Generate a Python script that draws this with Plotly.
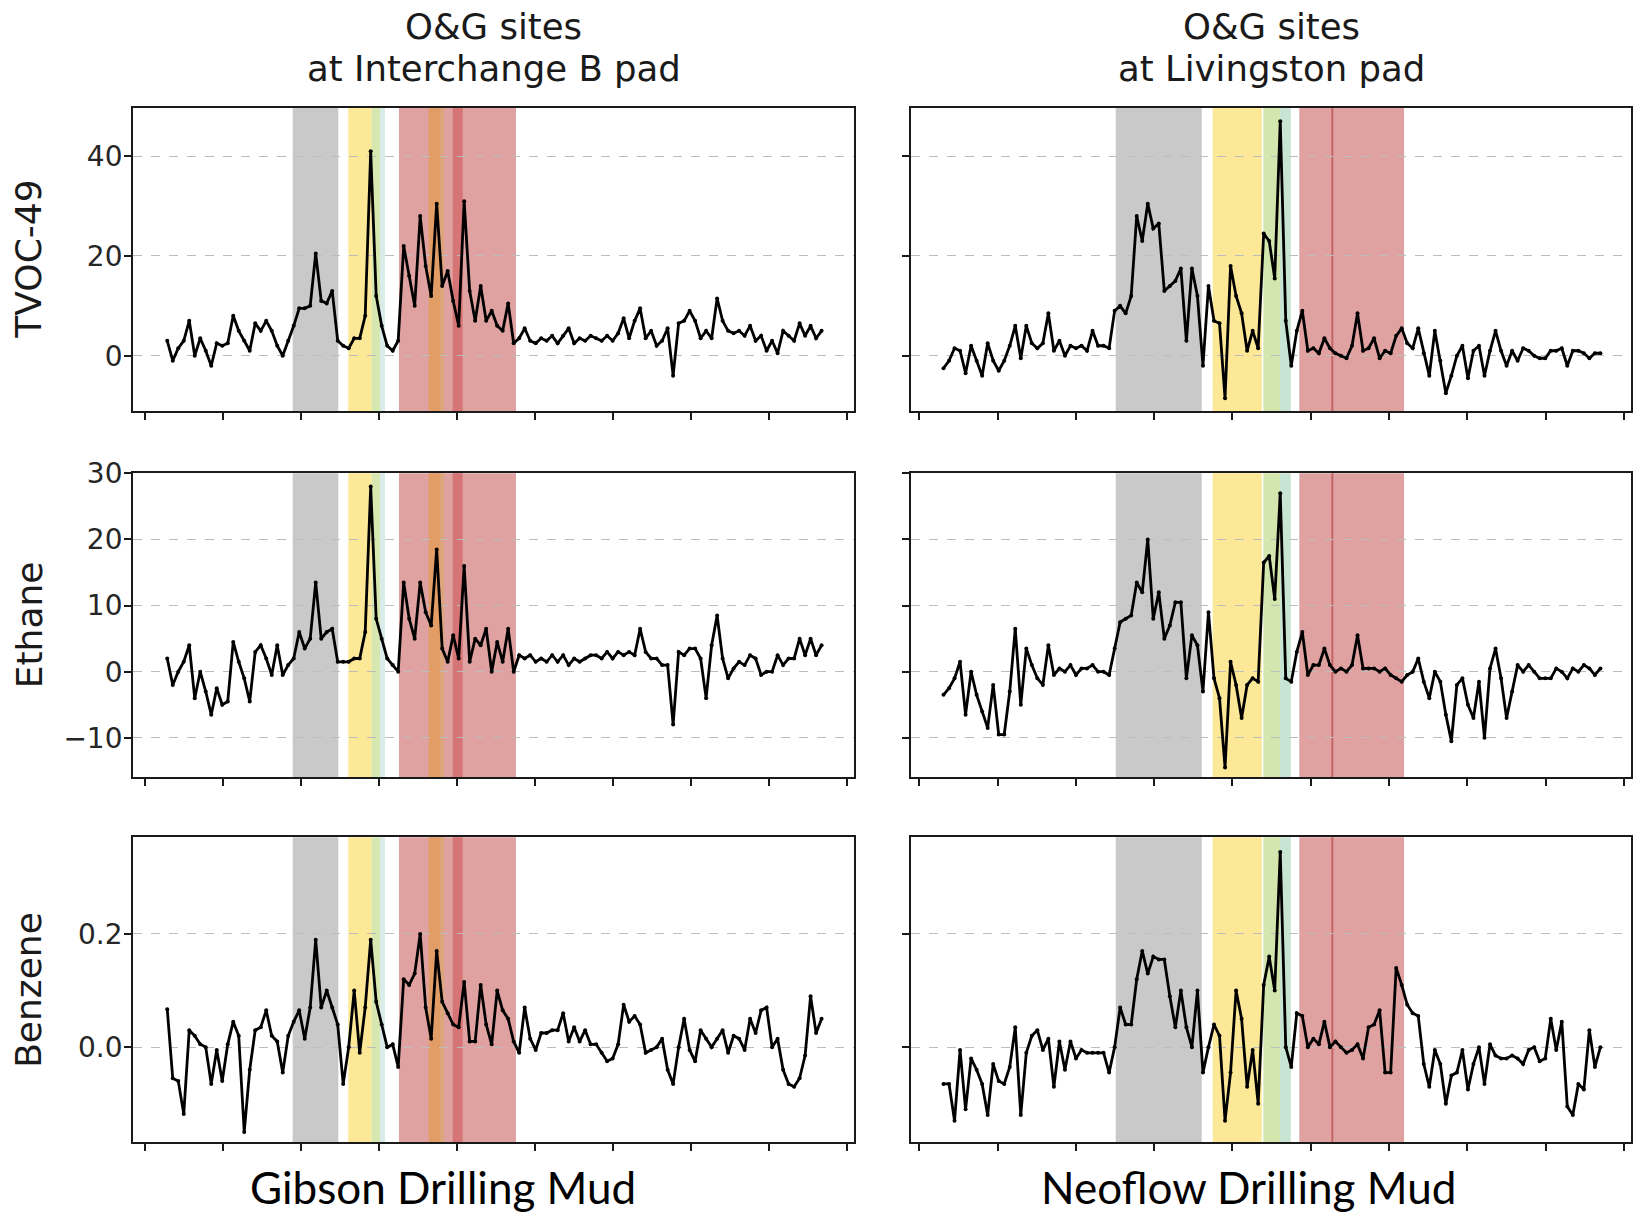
import plotly.graph_objects as go

# ---------------- data ----------------
N_SAMPLES = 120
DT_DAYS = 0.0705
T0_GIBSON = 0.28
T0_NEOFLOW = 0.31

gibson_tvoc = [3, -1, 1.5, 3, 7, 0, 3.5, 1, -2, 2.5,
               2, 2.5, 8, 5, 3, 1, 6.5, 5, 7, 5,
               2, 0, 3, 6, 9.5, 9.5, 10, 20.5, 11, 10.5,
               13, 3, 2, 1.5, 3.5, 3.5, 8, 41, 12, 6,
               2, 1, 3, 22, 16, 10, 28, 18, 12, 30.5,
               14, 17, 11, 6, 31, 13, 7, 14, 7, 9,
               6, 5, 10.5, 2.5, 3.5, 5.5, 3, 2.5, 3.5, 3,
               4, 2.5, 4, 5.5, 2.5, 3.5, 3, 4, 3.5, 3,
               4, 3, 4.5, 7.5, 3.5, 7, 9.5, 3.5, 5, 2,
               3, 5.5, -4, 6.5, 7, 9, 7, 3.5, 5, 3.5,
               11.5, 7, 5, 4.5, 5, 4, 6, 3, 4, 1,
               3, 0.5, 5, 4, 3, 6.5, 4, 6, 3.5, 5]

gibson_ethane = [2, -2, 0, 1.5, 4, -4, 0, -3, -6.5, -2.5,
                 -5, -4.5, 4.5, 1.5, -1, -4.5, 3, 4, 2, -0.5,
                 4, -0.5, 1, 2, 6, 3.5, 5, 13.5, 5, 6,
                 6.5, 1.5, 1.5, 1.5, 2, 2, 6, 28, 8, 5,
                 2, 1, 0, 13.5, 8, 5, 13.5, 9, 7, 18.5,
                 3.5, 1.5, 5.5, 2, 16, 1.5, 5, 4, 6.5, 0,
                 4.5, 1.5, 6.5, 0, 2.5, 2, 2.5, 1.5, 2, 1.5,
                 2.5, 1.5, 2.5, 1, 2, 1.5, 2, 2.5, 2.5, 2,
                 3, 2, 3, 2.5, 3, 2.5, 6.5, 3, 2, 2,
                 1, 1, -8, 3, 2.5, 3.5, 3.5, 2, -4, 4,
                 8.5, 2, -1, 0.5, 1.5, 1, 2.5, 2, -0.5, 0,
                 0, 2.5, 1, 2, 2, 5, 2.5, 5, 2.5, 4]

gibson_benzene = [0.067, -0.055, -0.06, -0.118, 0.03, 0.02, 0.005, 0.0, -0.065, -0.005,
                  -0.06, 0.005, 0.045, 0.02, -0.15, -0.04, 0.03, 0.035, 0.065, 0.02,
                  0.01, -0.045, 0.02, 0.045, 0.065, 0.015, 0.07, 0.19, 0.07, 0.1,
                  0.07, 0.04, -0.065, 0.0, 0.1, -0.01, 0.07, 0.19, 0.08, 0.04,
                  0.0, 0.005, -0.035, 0.12, 0.11, 0.13, 0.2, 0.07, 0.015, 0.17,
                  0.08, 0.06, 0.04, 0.035, 0.115, 0.01, 0.01, 0.11, 0.04, 0.005,
                  0.1, 0.065, 0.05, 0.01, -0.01, 0.07, 0.015, -0.005, 0.025, 0.025,
                  0.03, 0.03, 0.06, 0.01, 0.035, 0.01, 0.03, 0.005, 0.005, -0.01,
                  -0.025, -0.02, 0.005, 0.075, 0.045, 0.055, 0.04, -0.01, -0.005, 0.0,
                  0.015, -0.04, -0.065, 0.0, 0.05, -0.005, -0.025, 0.03, 0.015, 0.0,
                  0.015, 0.03, -0.01, 0.02, 0.015, -0.005, 0.05, 0.025, 0.065, 0.07,
                  0.0, 0.015, -0.04, -0.065, -0.07, -0.055, -0.015, 0.09, 0.025, 0.05]

neoflow_tvoc = [-2.5, -1, 1.5, 1, -3.5, 2, -1, -4, 2.5, -1,
                -3, -1, 2, 6, -0.5, 6, 2.5, 1.5, 2.5, 8.5,
                1, 3, 0, 2, 1.5, 2, 1, 5, 2, 2,
                1.5, 9, 10, 8.5, 12, 28, 23, 30.5, 25.5, 26.5,
                13, 14, 15, 17.5, 3, 17.5, 12, -2, 14, 7,
                6.5, -8.5, 18, 12, 8.5, 1, 5, 1.5, 24.5, 23,
                15.5, 47, 7, -2, 5, 9, 1, 1.5, 0.5, 3.5,
                1.5, 0.5, 0, -0.5, 2, 8.5, 1, 1.5, 3.5, -0.5,
                1, 0.5, 4, 5.5, 2.5, 1.5, 5.5, 0.5, -4, 5,
                -1, -7.5, -4, 0, 2, -4.5, 1, 2, -4, 1,
                5, 1, -2, 1, -1, 1.5, 1, 0, -0.5, -0.5,
                1, 1, 1.5, -2, 1, 1, 0.5, -0.5, 0.5, 0.5]

neoflow_ethane = [-3.5, -2.5, -1, 1.5, -6.5, 0, -3.5, -6, -8.5, -2,
                  -9.5, -9.5, -3, 6.5, -5, 3.5, 1, -1, -2, 4,
                  -0.5, 0.5, 0, 1, -0.5, 0.5, 0.5, 1, 0, 0,
                  -0.5, 3.5, 7.5, 8, 8.5, 13.5, 12, 20, 8, 12,
                  5, 7, 10.5, 10.5, -1, 5.5, 4, -3, 9, -1,
                  -4, -14.5, 1.5, -2, -7, -2, -1, -1.5, 16.5, 17.5,
                  11, 27, -1, -1.5, 3, 6, -0.5, 1, 1, 3.5,
                  1, 0, 0.5, 0, 1, 5.5, 0.5, 0.5, 0.5, 0,
                  0.5, -0.5, -1, -1.5, -0.5, 0, 2, -1.5, -4, 0,
                  -1.5, -6.5, -10.5, -2, -1, -5, -7, -1.5, -10, 0.5,
                  3.5, -1, -7, -3, 1, 0, 1, 0, -1, -1,
                  -1, 0.5, 0, -1, 0.5, 0, 1, 0.5, -0.5, 0.5]

neoflow_benzene = [-0.065, -0.065, -0.13, -0.005, -0.11, -0.02, -0.04, -0.065, -0.12, -0.03,
                   -0.06, -0.065, -0.035, 0.035, -0.12, -0.01, 0.02, 0.03, -0.005, 0.015,
                   -0.07, 0.01, -0.04, 0.01, -0.02, -0.005, -0.01, -0.01, -0.01, -0.01,
                   -0.045, 0.0, 0.07, 0.04, 0.04, 0.12, 0.17, 0.13, 0.16, 0.155,
                   0.155, 0.09, 0.035, 0.1, 0.035, 0.0, 0.1, -0.045, 0.0, 0.04,
                   0.02, -0.13, -0.045, 0.1, 0.05, -0.07, -0.005, -0.1, 0.11, 0.16,
                   0.1, 0.345, 0.0, -0.035, 0.06, 0.055, 0.0, 0.015, 0.005, 0.045,
                   0.0, 0.01, 0.0, -0.01, -0.005, 0.005, -0.02, 0.035, 0.04, 0.065,
                   -0.045, -0.045, 0.14, 0.11, 0.075, 0.06, 0.055, -0.03, -0.07, -0.005,
                   -0.03, -0.1, -0.05, -0.045, -0.005, -0.075, -0.03, 0.0, -0.065, 0.005,
                   -0.015, -0.02, -0.02, -0.015, -0.02, -0.03, -0.005, 0.0, -0.025, -0.02,
                   0.05, -0.005, 0.045, -0.105, -0.12, -0.065, -0.075, 0.03, -0.035, 0.0]

# activity periods (days)
gibson_periods = [(1.888, 2.473, "#c9c9c9"),
                  (2.601, 2.901, "#fce896"),
                  (2.901, 3.008, "#d6e8b0"),
                  (3.008, 3.072, "#d9ecea"),
                  (3.251, 4.751, "#e0a1a1"),
                  (3.632, 3.777, "#e29d66"),
                  (3.777, 3.832, "#dca57c"),
                  (3.940, 4.068, "#d67575")]
neoflow_periods = [(2.510, 3.608, "#c9c9c9"),
                   (3.748, 4.374, "#fce896"),
                   (4.395, 4.608, "#d3e6ad"),
                   (4.608, 4.745, "#c8e4d2"),
                   (4.854, 6.192, "#e0a1a1")]
neoflow_marker_day = 5.276

day_ticks = list(range(10))
row_names = ["TVOC-49", "Ethane", "Benzene"]
col_titles = [("O&G sites", "at Interchange B pad"), ("O&G sites", "at Livingston pad")]
col_labels = ["Gibson Drilling Mud", "Neoflow Drilling Mud"]

# ---------------- figure ----------------
W, H = 1633, 1213
# empirical correction of the vertical placement seen in the rendered page
Y_OFF, Y_SCALE = 12.7, 0.9893


def py(p):
    """paper fraction for a wanted vertical pixel position"""
    return 1 - ((p - Y_OFF) / Y_SCALE) / H


t_gib = [T0_GIBSON + i * DT_DAYS for i in range(N_SAMPLES)]
t_neo = [T0_NEOFLOW + i * DT_DAYS for i in range(N_SAMPLES)]

series = [[gibson_tvoc, neoflow_tvoc],
          [gibson_ethane, neoflow_ethane],
          [gibson_benzene, neoflow_benzene]]
times = [t_gib, t_neo]
periods = [gibson_periods, neoflow_periods]

col_px = [(133, 854), (911, 1631)]
row_px = [(105, 409), (471, 776), (836, 1142)]
x_ranges = [[-0.159, 9.085], [-0.105, 9.09]]
y_ranges = [[-11.14, 49.66], [-15.98, 30.03], [-0.1685, 0.371]]
y_ticks = [[0, 20, 40], [-10, 0, 10, 20, 30], [0.0, 0.2]]
y_formats = ["d", "d", ".1f"]

fig = go.Figure()
layout = dict(width=W, height=H, margin=dict(l=0, r=0, t=0, b=0),
              paper_bgcolor="white", plot_bgcolor="white", showlegend=False,
              font=dict(family="DejaVu Sans", color="#262626"))
shapes = []
annotations = []

axis_line = dict(showline=True, linecolor="#1a1a1a", linewidth=1.8, mirror=True,
                 ticks="outside", ticklen=7, tickwidth=1.5, tickcolor="#1a1a1a",
                 zeroline=False)

for r in range(3):
    for c in range(2):
        idx = r * 2 + c + 1
        sfx = "" if idx == 1 else str(idx)
        xa, ya = "x" + sfx, "y" + sfx
        fig.add_trace(go.Scatter(x=times[c], y=series[r][c], mode="lines+markers",
                                 line=dict(color="black", width=2.8),
                                 marker=dict(size=4, color="black"),
                                 xaxis=xa, yaxis=ya, hoverinfo="skip"))
        x0p, x1p = col_px[c]
        y0p, y1p = row_px[r]
        layout["xaxis" + sfx] = dict(axis_line, domain=[x0p / W, x1p / W], anchor=ya,
                                     range=x_ranges[c], tickvals=day_ticks,
                                     showticklabels=False, showgrid=False)
        layout["yaxis" + sfx] = dict(axis_line, domain=[py(y1p), py(y0p)], anchor=xa,
                                     range=y_ranges[r], tickvals=y_ticks[r],
                                     tickformat=y_formats[r],
                                     showticklabels=(c == 0), ticklabelstandoff=-4,
                                     tickfont=dict(family="DejaVu Sans", size=28, color="#262626"),
                                     showgrid=True, gridcolor="#bdbdbd", gridwidth=1,
                                     griddash="dash")
        for (a, b, col) in periods[c]:
            shapes.append(dict(type="rect", xref=xa, yref=ya + " domain",
                               x0=a, x1=b, y0=0, y1=1, fillcolor=col,
                               line=dict(width=0), layer="below"))
        if c == 1:
            shapes.append(dict(type="line", xref=xa, yref=ya + " domain",
                               x0=neoflow_marker_day, x1=neoflow_marker_day, y0=0, y1=1,
                               line=dict(color="#c46464", width=2), layer="below"))

# row labels
for r in range(3):
    yc = (row_px[r][0] + row_px[r][1]) / 2
    annotations.append(dict(text=row_names[r], xref="paper", yref="paper",
                            x=29 / W, y=py(yc), textangle=-90, showarrow=False,
                            xanchor="center", yanchor="middle",
                            font=dict(family="DejaVu Sans", size=36, color="#1a1a1a")))

# column titles and labels
for c in range(2):
    xc = (col_px[c][0] + col_px[c][1]) / 2
    for j, line in enumerate(col_titles[c]):
        annotations.append(dict(text=line, xref="paper", yref="paper",
                                x=xc / W, y=py(23 + 42 * j), showarrow=False,
                                xanchor="center", yanchor="middle",
                                font=dict(family="DejaVu Sans", size=35.5, color="#1a1a1a")))
    label_x = [443, 1248][c]
    annotations.append(dict(text=col_labels[c], xref="paper", yref="paper",
                            x=label_x / W, y=py(1187), showarrow=False,
                            xanchor="center", yanchor="middle",
                            font=dict(family="Lato", size=44, color="black")))

layout["shapes"] = shapes
layout["annotations"] = annotations
fig.update_layout(**layout)
fig.write_html("out.html")
